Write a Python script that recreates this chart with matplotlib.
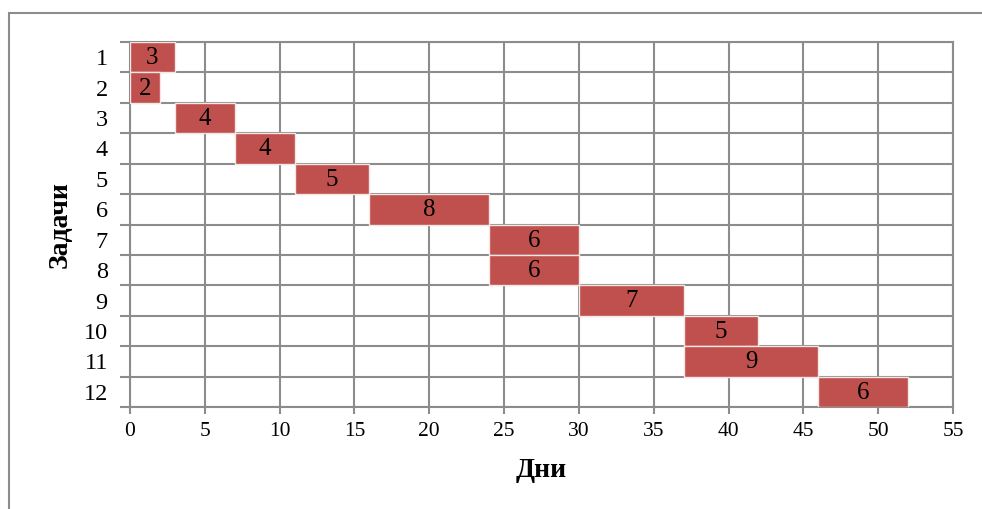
import matplotlib.pyplot as plt
from matplotlib.patches import Rectangle

tasks = [1, 2, 3, 4, 5, 6, 7, 8, 9, 10, 11, 12]
starts = [0, 0, 3, 7, 11, 16, 24, 24, 30, 37, 37, 46]
durations = [3, 2, 4, 4, 5, 8, 6, 6, 7, 5, 9, 6]

plt.rcParams['font.family'] = ['Liberation Serif', 'DejaVu Serif']
grid_col = '#8c8c8c'

fig = plt.figure(figsize=(9.82, 5.09), dpi=100)
ax = fig.add_axes([130/982, 1 - 407/509, (953-130)/982, (407-42)/509])

# outer chart frame
fig.patches.append(Rectangle((9/982, -0.1), 1.1, 1 - 13/509 + 0.1, transform=fig.transFigure,
                             fill=False, edgecolor='#8c8c8c', linewidth=1.5))

ax.barh(tasks, durations, left=starts, height=1.0, color='#C0504D',
        edgecolor='#f5e6e6', linewidth=1.0, zorder=3)
for t, s, d in zip(tasks, starts, durations):
    ax.text(s + d / 2, t + 0.03, str(d), ha='center', va='center', fontsize=18, zorder=4)

ax.set_xlim(0, 55)
ax.set_ylim(12.5, 0.5)
ax.set_xticks(range(0, 56, 5))
ax.set_yticks(tasks)
ax.set_yticks([i + 0.5 for i in range(0, 13)], minor=True)
ax.tick_params(axis='x', length=5, color=grid_col, width=1.5, labelsize=15.5, pad=6)
ax.tick_params(axis='y', which='major', length=0, labelsize=17.5, pad=16)
ax.tick_params(axis='y', which='minor', length=7, color=grid_col, width=1.5)
ax.grid(True, axis='x', which='major', color=grid_col, linewidth=1.5, zorder=0)
ax.grid(True, axis='y', which='minor', color=grid_col, linewidth=1.5, zorder=0)
ax.set_axisbelow(True)
for sp in ax.spines.values():
    sp.set_color(grid_col)
    sp.set_linewidth(1.5)

ax.set_xlabel('Дни', fontsize=20, fontweight='bold', labelpad=12)
ax.set_ylabel('Задачи', fontsize=20, fontweight='bold', labelpad=8)

plt.savefig('out.png', dpi=100)
